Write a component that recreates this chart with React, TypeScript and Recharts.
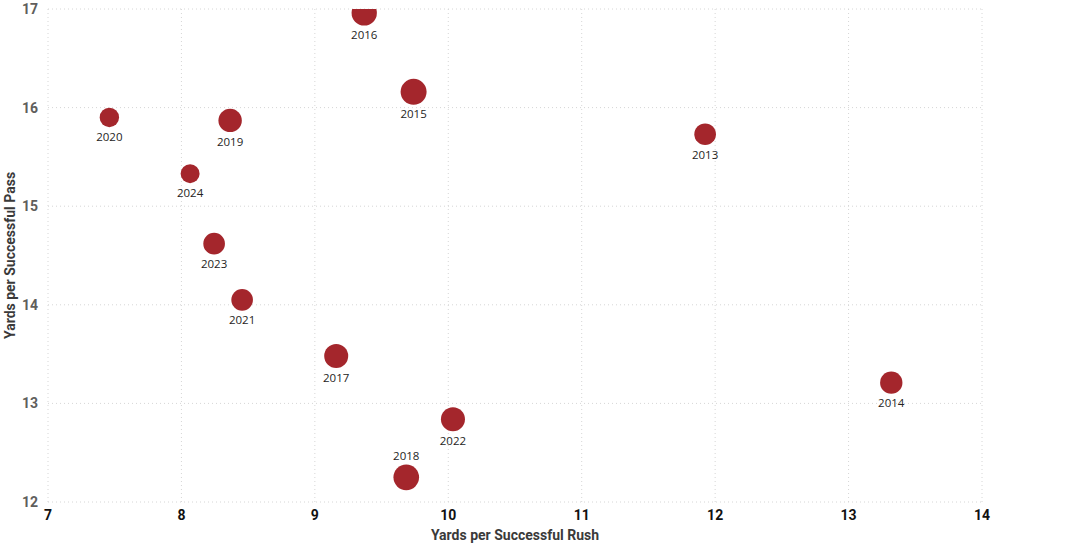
import React from 'react';
import { ScatterChart, Scatter, XAxis, YAxis, ZAxis, CartesianGrid } from 'recharts';

const years = ['2013', '2014', '2015', '2016', '2017', '2018', '2019', '2020', '2021', '2022', '2023', '2024'];
const rushYards = [11.925, 13.32, 9.74, 9.37, 9.16, 9.685, 8.365, 7.46, 8.455, 10.035, 8.245, 8.065];
const passYards = [15.73, 13.21, 16.16, 16.96, 13.48, 12.25, 15.87, 15.9, 14.05, 12.84, 14.62, 15.33];
const bubbleSizes = [117, 125, 169, 160, 144, 164, 137, 94, 117, 144, 117, 90];
const labelAboveYears = ['2018'];

const xTicks = [7, 8, 9, 10, 11, 12, 13, 14];
const yTicks = [12, 13, 14, 15, 16, 17];

const data = years.map((year, i) => ({
  year,
  x: rushYards[i],
  y: passYards[i],
  z: bubbleSizes[i],
}));

const maxSize = Math.max(...bubbleSizes);
const FONT = 'Roboto, "Open Sans", sans-serif';

const Bubble = (props: any) => {
  const { cx, cy, payload } = props;
  const r = props.width ? props.width / 2 : Math.sqrt((props.size || 0) / Math.PI);
  const above = labelAboveYears.includes(payload.year);
  const ly = above ? cy - r - 9 : cy + r + 9;
  return (
    <g>
      <circle cx={cx} cy={cy} r={r} fill="#A4262C" />
      <text
        x={cx}
        y={ly}
        textAnchor="middle"
        dominantBaseline="central"
        fontFamily='"Open Sans", sans-serif'
        fontSize={11.5}
        fill="#252423"
      >
        {payload.year}
      </text>
    </g>
  );
};

const XTitle = (props: any) => {
  const vb = props.viewBox || {};
  return (
    <text
      x={vb.x + vb.width / 2}
      y={540}
      textAnchor="middle"
      fontFamily={FONT}
      fontWeight={700}
      fontSize={14}
      fill="#3a3a3a"
    >
      Yards per Successful Rush
    </text>
  );
};

const YTitle = (props: any) => {
  const vb = props.viewBox || {};
  const cx = 15;
  const cy = vb.y + vb.height / 2;
  return (
    <text
      x={cx}
      y={cy}
      transform={`rotate(-90, ${cx}, ${cy})`}
      textAnchor="middle"
      fontFamily={FONT}
      fontWeight={700}
      fontSize={14}
      fill="#3a3a3a"
    >
      Yards per Successful Pass
    </text>
  );
};

export default function App() {
  return (
    <div style={{ position: 'absolute', left: 0, top: 0, width: 1090, height: 544, background: '#fff' }}>
      <ScatterChart width={1090} height={544} margin={{ top: 9, right: 108, left: 0, bottom: 0 }}>
        <CartesianGrid stroke="#d6d6d6" strokeDasharray="1 3" />
        <XAxis
          type="number"
          dataKey="x"
          domain={[7, 14]}
          ticks={xTicks}
          height={42}
          axisLine={false}
          tickLine={false}
          tick={{ fill: '#111', fontFamily: FONT, fontWeight: 700, fontSize: 14 }}
          label={<XTitle />}
        />
        <YAxis
          type="number"
          dataKey="y"
          domain={[12, 17]}
          ticks={yTicks}
          width={48}
          allowDataOverflow
          axisLine={false}
          tickLine={false}
          tickMargin={4}
          tick={{ fill: '#605E5C', fontFamily: FONT, fontWeight: 700, fontSize: 14 }}
          label={<YTitle />}
        />
        <ZAxis type="number" dataKey="z" domain={[0, maxSize]} range={[0, maxSize * Math.PI]} />
        <Scatter data={data} shape={<Bubble />} isAnimationActive={false} />
      </ScatterChart>
    </div>
  );
}
